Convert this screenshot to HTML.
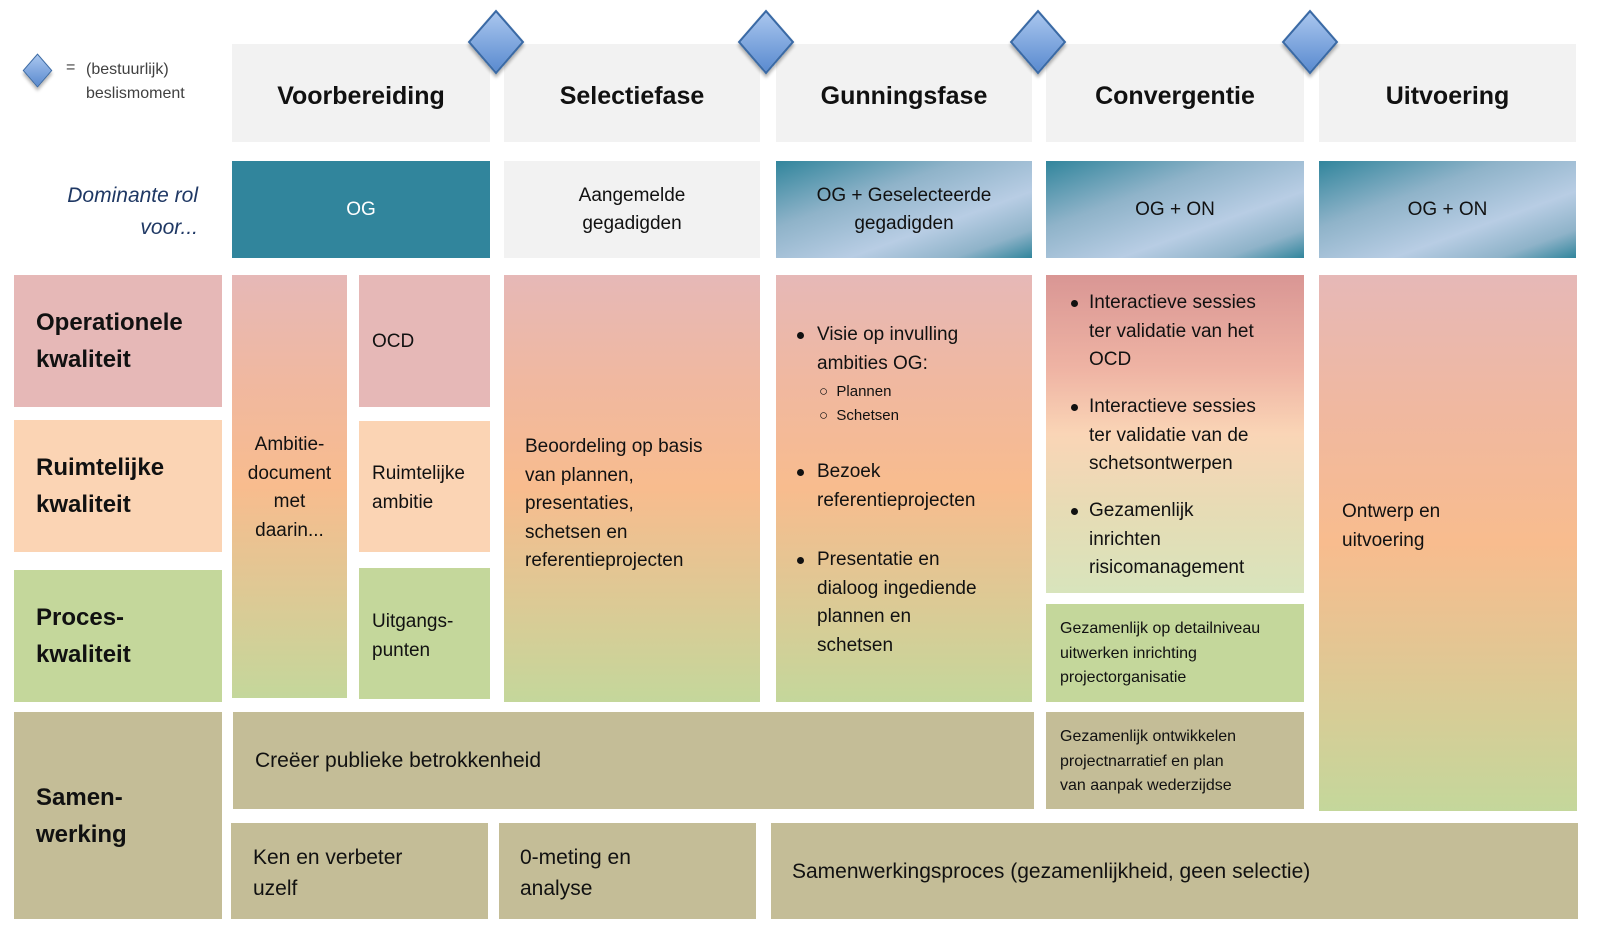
<!DOCTYPE html>
<html><head><meta charset="utf-8"><style>
*{margin:0;padding:0;box-sizing:border-box}
body{width:1600px;height:943px;background:#fff;position:relative;overflow:hidden;font-family:"Liberation Sans",sans-serif;color:#111}
.b{position:absolute}
.hd{background:#f2f2f2;display:flex;align-items:center;justify-content:center;font-weight:bold;font-size:25px;padding-top:6px}
.role{display:flex;align-items:center;justify-content:center;text-align:center;font-size:19px;line-height:28px}
.teal{background:linear-gradient(160deg,#31859c 0%,#8fb3c9 35%,#b8cde4 65%,#8fb3c9 85%,#31859c 100%);color:#111}
.lbl{font-weight:bold;font-size:24px;line-height:37px;padding-left:22px;display:flex;flex-direction:column;justify-content:center}
.grad{background:linear-gradient(180deg,#e6b8b7 0%,#f0b8a0 25%,#f8bc8e 50%,#e3c693 70%,#c4d79b 100%)}
.t{position:absolute;font-size:19px;line-height:28.5px;white-space:nowrap}
.s{position:absolute;font-size:16px;line-height:24.5px;white-space:nowrap}
.dot{position:absolute;width:7px;height:7px;border-radius:50%;background:#111}
.sw{background:#c4bd97}
.dia{position:absolute;width:40px;height:40px;transform:scaleY(1.15) rotate(45deg);background:linear-gradient(135deg,#a9c6ee,#5b8bd0);border:2px solid #3a6aa6;box-shadow:2px 2px 3px rgba(0,0,0,.3)}
</style></head><body>
<!-- legend -->
<div class="dia" style="left:27px;top:60px;width:21px;height:21px;border-width:1.5px"></div>
<div class="b" style="left:66px;top:59px;font-size:16px;color:#404040">=</div>
<div class="b" style="left:86px;top:58px;font-size:16px;line-height:24px;color:#404040">(bestuurlijk)<br>beslismoment</div>

<!-- headers -->
<div class="b hd" style="left:232px;top:44px;width:258px;height:98px">Voorbereiding</div>
<div class="b hd" style="left:504px;top:44px;width:256px;height:98px">Selectiefase</div>
<div class="b hd" style="left:776px;top:44px;width:256px;height:98px">Gunningsfase</div>
<div class="b hd" style="left:1046px;top:44px;width:258px;height:98px">Convergentie</div>
<div class="b hd" style="left:1319px;top:44px;width:257px;height:98px">Uitvoering</div>
<div class="dia" style="left:476px;top:22px"></div>
<div class="dia" style="left:746px;top:22px"></div>
<div class="dia" style="left:1018px;top:22px"></div>
<div class="dia" style="left:1290px;top:22px"></div>

<!-- role row -->
<div class="b" style="left:20px;top:180px;width:178px;text-align:right;font-style:italic;font-size:21px;line-height:32px;color:#1f3864">Dominante rol<br>voor...</div>
<div class="b role" style="left:232px;top:161px;width:258px;height:97px;background:#31859c;color:#fff">OG</div>
<div class="b role" style="left:504px;top:161px;width:256px;height:97px;background:#f2f2f2">Aangemelde<br>gegadigden</div>
<div class="b role teal" style="left:776px;top:161px;width:256px;height:97px">OG + Geselecteerde<br>gegadigden</div>
<div class="b role teal" style="left:1046px;top:161px;width:258px;height:97px">OG + ON</div>
<div class="b role teal" style="left:1319px;top:161px;width:257px;height:97px">OG + ON</div>

<!-- labels -->
<div class="b lbl" style="left:14px;top:275px;width:208px;height:132px;background:#e6b8b7">Operationele<br>kwaliteit</div>
<div class="b lbl" style="left:14px;top:420px;width:208px;height:132px;background:#fbd4b4">Ruimtelijke<br>kwaliteit</div>
<div class="b lbl" style="left:14px;top:570px;width:208px;height:132px;background:#c4d79b">Proces-<br>kwaliteit</div>
<div class="b lbl" style="left:14px;top:712px;width:208px;height:207px;background:#c4bd97">Samen-<br>werking</div>

<!-- Voorbereiding -->
<div class="b grad" style="left:232px;top:275px;width:115px;height:423px"></div>
<div class="t" style="left:232px;width:115px;top:431px;text-align:center">Ambitie-<br>document<br>met<br>daarin...</div>
<div class="b" style="left:359px;top:275px;width:131px;height:132px;background:#e6b8b7"></div>
<div class="t" style="left:372px;top:328px">OCD</div>
<div class="b" style="left:359px;top:421px;width:131px;height:131px;background:#fbd4b4"></div>
<div class="t" style="left:372px;top:460px">Ruimtelijke<br>ambitie</div>
<div class="b" style="left:359px;top:568px;width:131px;height:131px;background:#c4d79b"></div>
<div class="t" style="left:372px;top:608px">Uitgangs-<br>punten</div>

<!-- Selectiefase -->
<div class="b grad" style="left:504px;top:275px;width:256px;height:427px"></div>
<div class="t" style="left:525px;top:433px">Beoordeling op basis<br>van plannen,<br>presentaties,<br>schetsen en<br>referentieprojecten</div>

<!-- Gunningsfase -->
<div class="b grad" style="left:776px;top:275px;width:256px;height:427px"></div>
<div class="dot" style="left:797px;top:332px"></div>
<div class="t" style="left:817px;top:321px">Visie op invulling<br>ambities OG:</div>
<div class="s" style="left:819px;top:380px;font-size:15px;line-height:24px">○&nbsp; Plannen<br>○&nbsp; Schetsen</div>
<div class="dot" style="left:797px;top:469px"></div>
<div class="t" style="left:817px;top:458px">Bezoek<br>referentieprojecten</div>
<div class="dot" style="left:797px;top:557px"></div>
<div class="t" style="left:817px;top:546px">Presentatie en<br>dialoog ingediende<br>plannen en<br>schetsen</div>

<!-- Convergentie -->
<div class="b" style="left:1046px;top:275px;width:258px;height:318px;background:linear-gradient(180deg,#d99694 0%,#efb4a4 30%,#fad5b6 50%,#e6dcb5 75%,#d8e4bc 100%)"></div>
<div class="dot" style="left:1071px;top:300px"></div>
<div class="t" style="left:1089px;top:289px">Interactieve sessies<br>ter validatie van het<br>OCD</div>
<div class="dot" style="left:1071px;top:404px"></div>
<div class="t" style="left:1089px;top:393px">Interactieve sessies<br>ter validatie van de<br>schetsontwerpen</div>
<div class="dot" style="left:1071px;top:508px"></div>
<div class="t" style="left:1089px;top:497px">Gezamenlijk<br>inrichten<br>risicomanagement</div>
<div class="b" style="left:1046px;top:604px;width:258px;height:98px;background:#c4d79b"></div>
<div class="s" style="left:1060px;top:617px">Gezamenlijk op detailniveau<br>uitwerken inrichting<br>projectorganisatie</div>

<!-- Uitvoering -->
<div class="b grad" style="left:1319px;top:275px;width:258px;height:536px"></div>
<div class="t" style="left:1342px;top:498px">Ontwerp en<br>uitvoering</div>

<!-- samenwerking -->
<div class="b sw" style="left:233px;top:712px;width:801px;height:97px"></div>
<div class="t" style="left:255px;top:747px;font-size:21px">Creëer publieke betrokkenheid</div>
<div class="b sw" style="left:1046px;top:712px;width:258px;height:97px"></div>
<div class="s" style="left:1060px;top:725px">Gezamenlijk ontwikkelen<br>projectnarratief en plan<br>van aanpak wederzijdse</div>
<div class="b sw" style="left:231px;top:823px;width:257px;height:96px"></div>
<div class="t" style="left:253px;top:842px;font-size:21px;line-height:31px">Ken en verbeter<br>uzelf</div>
<div class="b sw" style="left:499px;top:823px;width:257px;height:96px"></div>
<div class="t" style="left:520px;top:842px;font-size:21px;line-height:31px">0-meting en<br>analyse</div>
<div class="b sw" style="left:771px;top:823px;width:807px;height:96px"></div>
<div class="t" style="left:792px;top:858px;font-size:21px">Samenwerkingsproces (gezamenlijkheid, geen selectie)</div>
</body></html>
